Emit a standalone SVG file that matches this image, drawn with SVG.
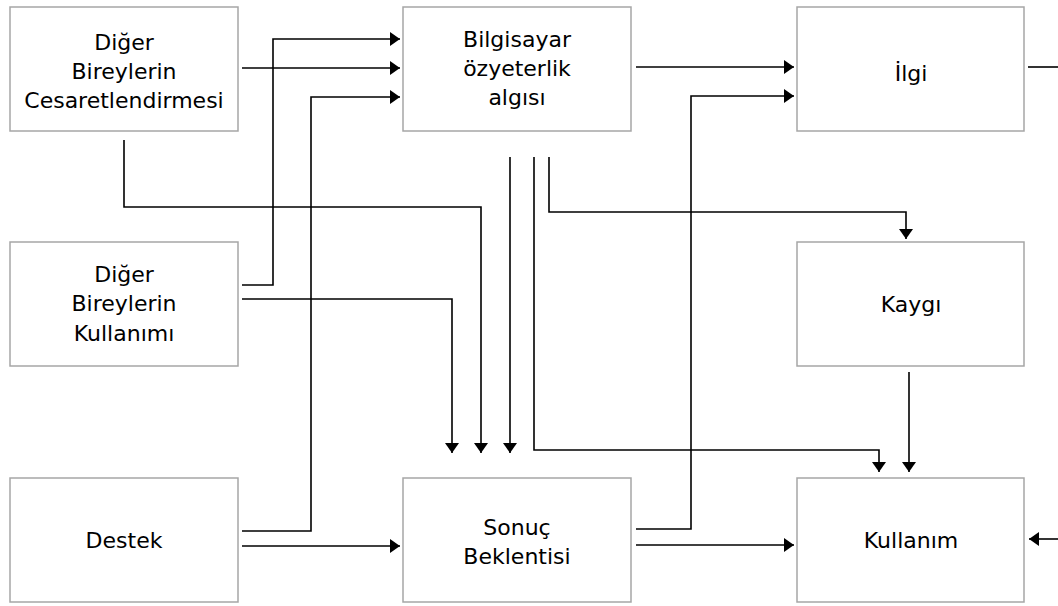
<svg xmlns="http://www.w3.org/2000/svg" width="1058" height="606" viewBox="0 0 1058 606">
<style>
.box{fill:#fff;stroke:#a6a6a6;stroke-width:1.5}
.t{font-family:"DejaVu Sans",sans-serif;font-size:22px;fill:#000;text-anchor:middle}
.c{fill:none;stroke:#000;stroke-width:1.6}
</style>
<defs>
<marker id="ah" markerUnits="userSpaceOnUse" markerWidth="12" markerHeight="14" refX="10" refY="7" orient="auto" viewBox="0 0 12 14">
<path d="M0,0 L10,7 L0,14 Z" fill="#000"/>
</marker>
</defs>
<rect width="1058" height="606" fill="#fff"/>
<g id="n1"><rect class="box" x="10" y="7" width="228" height="124"/>
<text class="t" x="124" y="50">Diğer</text><text class="t" x="124" y="79">Bireylerin</text><text class="t" x="124" y="108">Cesaretlendirmesi</text></g>
<g id="n2"><rect class="box" x="403" y="7" width="228" height="124"/>
<text class="t" x="517" y="47">Bilgisayar</text><text class="t" x="517" y="76">özyeterlik</text><text class="t" x="517" y="105">algısı</text></g>
<g id="n3"><rect class="box" x="797" y="7" width="227" height="124"/>
<text class="t" x="911" y="81">İlgi</text></g>
<g id="n4"><rect class="box" x="10" y="242" width="228" height="124"/>
<text class="t" x="124" y="282">Diğer</text><text class="t" x="124" y="311">Bireylerin</text><text class="t" x="124" y="341">Kullanımı</text></g>
<g id="n5"><rect class="box" x="797" y="242" width="227" height="124"/>
<text class="t" x="911" y="312">Kaygı</text></g>
<g id="n6"><rect class="box" x="10" y="478" width="228" height="124"/>
<text class="t" x="124" y="548">Destek</text></g>
<g id="n7"><rect class="box" x="403" y="478" width="228" height="124"/>
<text class="t" x="517" y="535">Sonuç</text><text class="t" x="517" y="564">Beklentisi</text></g>
<g id="n8"><rect class="box" x="797" y="478" width="227" height="124"/>
<text class="t" x="911" y="548">Kullanım</text></g>
<g id="connectors">
<path class="c" d="M242,68 H400" marker-end="url(#ah)"/>
<path class="c" d="M242,285 H273 V39 H400" marker-end="url(#ah)"/>
<path class="c" d="M242,531 H311 V97 H400" marker-end="url(#ah)"/>
<path class="c" d="M242,546 H400" marker-end="url(#ah)"/>
<path class="c" d="M124,140 V207 H481 V453" marker-end="url(#ah)"/>
<path class="c" d="M242,299 H452 V453" marker-end="url(#ah)"/>
<path class="c" d="M510,157 V453" marker-end="url(#ah)"/>
<path class="c" d="M534,157 V450 H879 V472" marker-end="url(#ah)"/>
<path class="c" d="M549,157 V212 H906 V239" marker-end="url(#ah)"/>
<path class="c" d="M636,67 H794" marker-end="url(#ah)"/>
<path class="c" d="M636,529 H691 V96 H794" marker-end="url(#ah)"/>
<path class="c" d="M636,545 H794" marker-end="url(#ah)"/>
<path class="c" d="M909,372 V472" marker-end="url(#ah)"/>
<path class="c" d="M1028,67 H1058"/>
<path class="c" d="M1058,539 H1029" marker-end="url(#ah)"/>
</g>
</svg>
